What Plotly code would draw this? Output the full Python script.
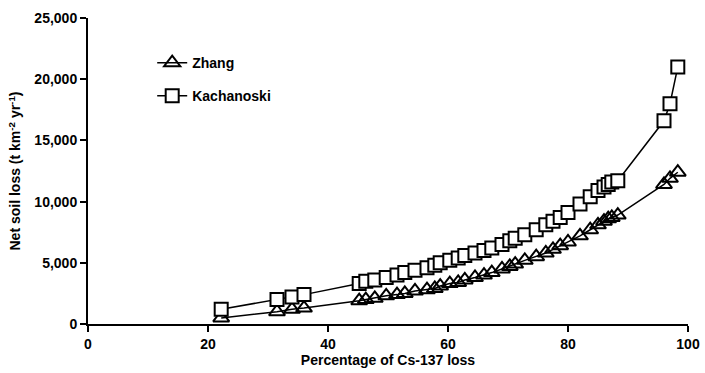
import plotly.graph_objects as go

cs_loss = [22.2, 31.5, 34.0, 36.0, 45.2, 46.3, 47.8, 49.7, 51.5, 52.8, 54.5, 56.5,
           57.8, 58.7, 60.3, 61.7, 62.8, 64.5, 66.0, 67.3, 69.0, 70.3, 71.2, 72.8,
           74.7, 76.3, 77.5, 78.7, 80.0, 82.0, 83.7, 85.0, 86.0, 86.7, 87.3, 88.3,
           96.0, 97.0, 98.3]
zhang = [500, 1000, 1200, 1300, 1900, 2000, 2100, 2300, 2400, 2500, 2700, 2800,
         2900, 3100, 3300, 3400, 3600, 3800, 4000, 4200, 4500, 4700, 4900, 5200,
         5500, 5800, 6100, 6400, 6700, 7200, 7700, 8100, 8400, 8600, 8700, 8900,
         11400, 11900, 12400]
kachanoski = [1200, 2000, 2200, 2400, 3300, 3500, 3600, 3800, 4000, 4200, 4400, 4600,
              4800, 5000, 5200, 5400, 5600, 5800, 6000, 6200, 6500, 6800, 7000, 7300,
              7700, 8100, 8400, 8700, 9100, 9800, 10400, 10900, 11200, 11400, 11600, 11700,
              16600, 18000, 21000]

x_ticks = [0, 20, 40, 60, 80, 100]
y_ticks = [0, 5000, 10000, 15000, 20000, 25000]

FONT = "Liberation Sans, Arial, sans-serif"
FS = 14

fig = go.Figure()
fig.add_trace(go.Scatter(
    x=cs_loss, y=zhang, name="Zhang", mode="lines+markers", legendgroup="z",
    line=dict(color="black", width=1.5),
    marker=dict(symbol="triangle-up-open", size=14, color="black", line=dict(width=2)),
    cliponaxis=False,
))
fig.add_trace(go.Scatter(
    x=cs_loss, y=kachanoski, name="Kachanoski", mode="lines+markers", legendgroup="k",
    line=dict(color="black", width=1.5),
    marker=dict(symbol="square", size=13, color="white", line=dict(width=2, color="black")),
    cliponaxis=False,
))

fig.update_layout(
    width=705, height=373,
    margin=dict(l=88, r=17, t=18, b=49),
    paper_bgcolor="white", plot_bgcolor="white",
    font=dict(family=FONT, size=FS, color="black", weight="bold"),
    showlegend=True,
    legend=dict(x=0.107, y=0.905, xanchor="left", yanchor="top",
                bgcolor="rgba(0,0,0,0)", font=dict(size=FS, family=FONT, weight="bold"),
                traceorder="grouped", tracegroupgap=12),
    xaxis=dict(range=[0, 100], tickvals=x_ticks, showgrid=False, zeroline=False,
               showline=True, linecolor="black", linewidth=2, automargin=False,
               ticks="outside", ticklen=6, tickwidth=1.5, tickcolor="black",
               title=dict(text="Percentage of Cs-137 loss", standoff=4,
                          font=dict(size=FS, family=FONT, weight="bold"))),
    yaxis=dict(range=[0, 25000], tickvals=y_ticks, tickformat=",", showgrid=False,
               zeroline=False, showline=True, linecolor="black", linewidth=2,
               automargin=False,
               ticks="outside", ticklen=6, tickwidth=1.5, tickcolor="black",
               title=dict(text="Net soil loss (t km<sup>-2</sup> yr<sup>-1</sup>)", standoff=10,
                          font=dict(size=FS, family=FONT, weight="bold"))),
)

fig.write_html("out.html")
